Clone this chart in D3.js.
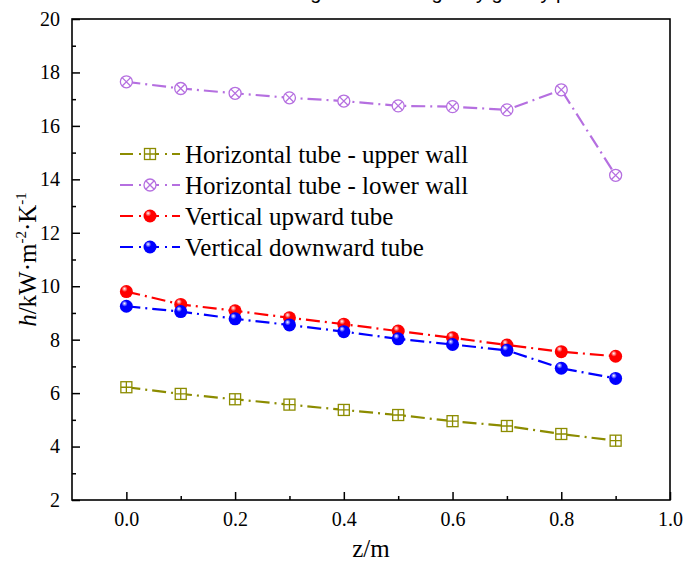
<!DOCTYPE html>
<html>
<head>
<meta charset="utf-8">
<title>h along tube</title>
<script src="https://cdn.jsdelivr.net/npm/d3@7"></script>
</head>
<body style="margin:0; background:#fff">
<script>
// data
const zValues = [0.0, 0.1, 0.2, 0.3, 0.4, 0.5, 0.6, 0.7, 0.8, 0.9];
const upperWall = [6.22, 5.97, 5.77, 5.57, 5.37, 5.18, 4.95, 4.77, 4.47, 4.22];
const lowerWall = [17.65, 17.4, 17.22, 17.05, 16.93, 16.75, 16.72, 16.6, 17.35, 14.15];
const verticalUp = [9.8, 9.32, 9.08, 8.82, 8.58, 8.32, 8.07, 7.8, 7.55, 7.38];
const verticalDown = [9.25, 9.05, 8.78, 8.55, 8.3, 8.03, 7.82, 7.6, 6.93, 6.55];
const seriesNames = ['Horizontal tube - upper wall', 'Horizontal tube - lower wall',
  'Vertical upward tube', 'Vertical downward tube'];
const xTicks = [0.0, 0.2, 0.4, 0.6, 0.8, 1.0];
const yTicks = [2, 4, 6, 8, 10, 12, 14, 16, 18, 20];

const width = 685, height = 567;
const plotLeft = 72, plotRight = 670, plotTop = 19, plotBottom = 500;
const serif = 'Liberation Serif';

const svg = d3.select('body').append('svg')
  .attr('width', width).attr('height', height);

const defs = svg.append('defs');
function sphereGrad(id, color) {
  const g = defs.append('radialGradient').attr('id', id)
    .attr('cx', '40%').attr('cy', '35%').attr('r', '65%').attr('fx', '35%').attr('fy', '28%');
  g.append('stop').attr('offset', '0%').attr('stop-color', '#ffffff');
  g.append('stop').attr('offset', '35%').attr('stop-color', color);
  g.append('stop').attr('offset', '100%').attr('stop-color', color);
}
sphereGrad('gRed', '#ff0000');
sphereGrad('gBlue', '#0000ff');

const x = d3.scaleLinear().domain([-0.1, 1.0]).range([plotLeft, plotRight]);
const y = d3.scaleLinear().domain([2, 20]).range([plotBottom, plotTop]);

// cut-off title at the very top
svg.append('text')
  .attr('x', 625).attr('y', -1)
  .attr('text-anchor', 'end')
  .style('font-family', 'Liberation Sans')
  .style('font-size', '20px')
  .text('along the tube length by gravity position');

// axes (ticks inward)
const xAxis = d3.axisBottom(x).tickValues(xTicks).tickFormat(d3.format('.1f'))
  .tickSizeInner(-8).tickSizeOuter(0).tickPadding(12);
const gx = svg.append('g').attr('transform', `translate(0,${plotBottom})`).call(xAxis);
const gxMinor = svg.append('g').attr('transform', `translate(0,${plotBottom})`)
  .call(d3.axisBottom(x).tickValues([0.1, 0.3, 0.5, 0.7, 0.9]).tickFormat('').tickSizeInner(-4).tickSizeOuter(0));

const yAxis = d3.axisLeft(y).tickValues(yTicks).tickSizeInner(-8).tickSizeOuter(0).tickPadding(12);
const gy = svg.append('g').attr('transform', `translate(${plotLeft},0)`).call(yAxis);
const gyMinor = svg.append('g').attr('transform', `translate(${plotLeft},0)`)
  .call(d3.axisLeft(y).tickValues([3, 5, 7, 9, 11, 13, 15, 17, 19]).tickFormat('').tickSizeInner(-4).tickSizeOuter(0));

[gx, gxMinor, gy, gyMinor].forEach(g => {
  g.select('.domain').remove();
  g.selectAll('line').attr('stroke', '#000').attr('stroke-width', 1.5);
  g.selectAll('text').style('font-family', serif).style('font-size', '20px');
});

// frame
svg.append('rect')
  .attr('x', plotLeft).attr('y', plotTop)
  .attr('width', plotRight - plotLeft).attr('height', plotBottom - plotTop)
  .attr('fill', 'none').attr('stroke', '#000').attr('stroke-width', 1.6);

// axis titles
svg.append('text')
  .attr('x', (plotLeft + plotRight) / 2).attr('y', 557)
  .attr('text-anchor', 'middle')
  .style('font-family', serif).style('font-size', '25px')
  .text('z/m');

const yTitle = svg.append('text')
  .attr('transform', `translate(36,${(plotTop + plotBottom) / 2}) rotate(-90)`)
  .attr('text-anchor', 'middle')
  .style('font-family', serif).style('font-size', '25px');
yTitle.append('tspan').style('font-style', 'italic').text('h');
yTitle.append('tspan').text('/kW·m');
yTitle.append('tspan').attr('dy', -10).style('font-size', '15px').text('-2');
yTitle.append('tspan').attr('dy', 10).text('·K');
yTitle.append('tspan').attr('dy', -10).style('font-size', '15px').text('-1');

// series
const series = [
  { name: seriesNames[0], values: upperWall, color: '#8c8c00', marker: 'squarePlus' },
  { name: seriesNames[1], values: lowerWall, color: '#b56fe0', marker: 'circleX' },
  { name: seriesNames[2], values: verticalUp, color: '#ff0000', marker: 'sphere', grad: 'gRed' },
  { name: seriesNames[3], values: verticalDown, color: '#0000ff', marker: 'sphere', grad: 'gBlue' }
];

const dash = '14,5,2,5';
const line = d3.line().x(d => x(d[0])).y(d => y(d[1]));

function drawMarker(g, cx, cy, s) {
  const m = g.append('g').attr('transform', `translate(${cx},${cy})`);
  if (s.marker === 'squarePlus') {
    m.append('rect').attr('x', -5.5).attr('y', -5.5).attr('width', 11).attr('height', 11)
      .attr('fill', '#fff').attr('stroke', s.color).attr('stroke-width', 1.3);
    m.append('path').attr('d', 'M-5.5,0H5.5M0,-5.5V5.5')
      .attr('stroke', s.color).attr('stroke-width', 1.3);
  } else if (s.marker === 'circleX') {
    m.append('circle').attr('r', 6).attr('fill', '#fff')
      .attr('stroke', s.color).attr('stroke-width', 1.3);
    m.append('path').attr('d', 'M-4.2,-4.2L4.2,4.2M-4.2,4.2L4.2,-4.2')
      .attr('stroke', s.color).attr('stroke-width', 1.3);
  } else {
    m.append('circle').attr('r', 6.5).attr('fill', `url(#${s.grad})`);
  }
}

series.forEach(s => {
  const pts = zValues.map((z, i) => [z, s.values[i]]);
  const g = svg.append('g');
  g.append('path').attr('d', line(pts))
    .attr('fill', 'none').attr('stroke', s.color)
    .attr('stroke-width', 2.2).attr('stroke-dasharray', dash);
  pts.forEach(p => drawMarker(g, x(p[0]), y(p[1]), s));
});

// legend
const legendY = [154, 185, 216, 247];
series.forEach((s, i) => {
  const g = svg.append('g').attr('transform', `translate(0,${legendY[i]})`);
  g.append('path').attr('d', 'M120,0H180')
    .attr('stroke', s.color).attr('stroke-width', 2.2)
    .attr('stroke-dasharray', '13,6,2,5');
  drawMarker(g, 150, 0, s);
  g.append('text').attr('x', 185).attr('y', 8.5)
    .style('font-family', serif).style('font-size', '25px').text(s.name);
});
</script>
</body>
</html>
